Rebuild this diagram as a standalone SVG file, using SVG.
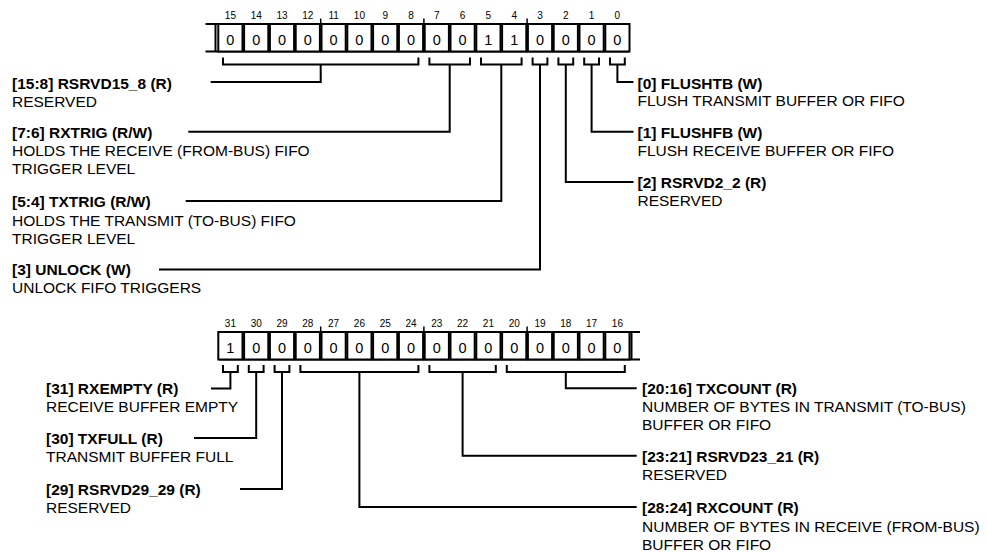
<svg xmlns="http://www.w3.org/2000/svg" width="987" height="552" viewBox="0 0 987 552">
<style>
text{font-family:"Liberation Sans",Arial,sans-serif;fill:#000}
.b{font-weight:bold;font-size:15.5px}
.r{font-size:15.5px}
.bn{font-size:10px;text-anchor:middle}
.cv{font-size:14.5px;text-anchor:middle}
.cell{fill:#fff;stroke:#000;stroke-width:2}
.ln{fill:none;stroke:#000;stroke-width:2}
.tk{fill:none;stroke:#000;stroke-width:1.5}
</style>
<rect width="987" height="552" fill="#fff"/>

<g id="register-15-0" transform="translate(-1,0)">
  <g class="bn">
    <text x="231.4" y="19">15</text><text x="257.2" y="19">14</text><text x="283" y="19">13</text><text x="308.8" y="19">12</text>
    <text x="334.6" y="19">11</text><text x="360.4" y="19">10</text><text x="386.2" y="19">9</text><text x="412" y="19">8</text>
    <text x="437.8" y="19">7</text><text x="463.6" y="19">6</text><text x="489.4" y="19">5</text><text x="515.2" y="19">4</text>
    <text x="541" y="19">3</text><text x="566.8" y="19">2</text><text x="592.6" y="19">1</text><text x="618.4" y="19">0</text>
  </g>
  <path class="tk" d="M321.7,18.5 V24 M424.9,18.5 V24 M528.1,18.5 V24"/>
  <path class="ln" d="M206.5,24 H630 M206.5,51.5 H630 M216.5,24 V51.5"/>
  <rect class="cell" x="219.3" y="24" width="24.2" height="27.5"/>
  <rect class="cell" x="245.1" y="24" width="24.2" height="27.5"/>
  <rect class="cell" x="270.9" y="24" width="24.2" height="27.5"/>
  <rect class="cell" x="296.7" y="24" width="24.2" height="27.5"/>
  <rect class="cell" x="322.5" y="24" width="24.2" height="27.5"/>
  <rect class="cell" x="348.3" y="24" width="24.2" height="27.5"/>
  <rect class="cell" x="374.1" y="24" width="24.2" height="27.5"/>
  <rect class="cell" x="399.9" y="24" width="24.2" height="27.5"/>
  <rect class="cell" x="425.7" y="24" width="24.2" height="27.5"/>
  <rect class="cell" x="451.5" y="24" width="24.2" height="27.5"/>
  <rect class="cell" x="477.3" y="24" width="24.2" height="27.5"/>
  <rect class="cell" x="503.1" y="24" width="24.2" height="27.5"/>
  <rect class="cell" x="528.9" y="24" width="24.2" height="27.5"/>
  <rect class="cell" x="554.7" y="24" width="24.2" height="27.5"/>
  <rect class="cell" x="580.5" y="24" width="24.2" height="27.5"/>
  <rect class="cell" x="606.3" y="24" width="24.2" height="27.5"/>
  <g class="cv">
    <text x="231.4" y="45">0</text><text x="257.2" y="45">0</text><text x="283" y="45">0</text><text x="308.8" y="45">0</text>
    <text x="334.6" y="45">0</text><text x="360.4" y="45">0</text><text x="386.2" y="45">0</text><text x="412" y="45">0</text>
    <text x="437.8" y="45">0</text><text x="463.6" y="45">0</text><text x="489.4" y="45">1</text><text x="515.2" y="45">1</text>
    <text x="541" y="45">0</text><text x="566.8" y="45">0</text><text x="592.6" y="45">0</text><text x="618.4" y="45">0</text>
  </g>
</g>

<g id="register-31-16" transform="translate(-1,0)">
  <g class="bn">
    <text x="231.4" y="327">31</text><text x="257.2" y="327">30</text><text x="283" y="327">29</text><text x="308.8" y="327">28</text>
    <text x="334.6" y="327">27</text><text x="360.4" y="327">26</text><text x="386.2" y="327">25</text><text x="412" y="327">24</text>
    <text x="437.8" y="327">23</text><text x="463.6" y="327">22</text><text x="489.4" y="327">21</text><text x="515.2" y="327">20</text>
    <text x="541" y="327">19</text><text x="566.8" y="327">18</text><text x="592.6" y="327">17</text><text x="618.4" y="327">16</text>
  </g>
  <path class="tk" d="M321.7,326.5 V332 M424.9,326.5 V332 M528.1,326.5 V332"/>
  <path class="ln" d="M220,332 H641 M220,359.5 H641 M632.5,332 V359.5"/>
  <rect class="cell" x="219.3" y="332" width="24.2" height="27.5"/>
  <rect class="cell" x="245.1" y="332" width="24.2" height="27.5"/>
  <rect class="cell" x="270.9" y="332" width="24.2" height="27.5"/>
  <rect class="cell" x="296.7" y="332" width="24.2" height="27.5"/>
  <rect class="cell" x="322.5" y="332" width="24.2" height="27.5"/>
  <rect class="cell" x="348.3" y="332" width="24.2" height="27.5"/>
  <rect class="cell" x="374.1" y="332" width="24.2" height="27.5"/>
  <rect class="cell" x="399.9" y="332" width="24.2" height="27.5"/>
  <rect class="cell" x="425.7" y="332" width="24.2" height="27.5"/>
  <rect class="cell" x="451.5" y="332" width="24.2" height="27.5"/>
  <rect class="cell" x="477.3" y="332" width="24.2" height="27.5"/>
  <rect class="cell" x="503.1" y="332" width="24.2" height="27.5"/>
  <rect class="cell" x="528.9" y="332" width="24.2" height="27.5"/>
  <rect class="cell" x="554.7" y="332" width="24.2" height="27.5"/>
  <rect class="cell" x="580.5" y="332" width="24.2" height="27.5"/>
  <rect class="cell" x="606.3" y="332" width="24.2" height="27.5"/>
  <g class="cv">
    <text x="231.4" y="353">1</text><text x="257.2" y="353">0</text><text x="283" y="353">0</text><text x="308.8" y="353">0</text>
    <text x="334.6" y="353">0</text><text x="360.4" y="353">0</text><text x="386.2" y="353">0</text><text x="412" y="353">0</text>
    <text x="437.8" y="353">0</text><text x="463.6" y="353">0</text><text x="489.4" y="353">0</text><text x="515.2" y="353">0</text>
    <text x="541" y="353">0</text><text x="566.8" y="353">0</text><text x="592.6" y="353">0</text><text x="618.4" y="353">0</text>
  </g>
</g>

<g id="connectors" class="ln" transform="translate(-1,0)">
  <path d="M224,57.5 V64.5 H419.4 V57.5 M321.7,64.5 V82 H211.7"/>
  <path d="M430.4,57.5 V64.5 H471 V57.5 M450.7,64.5 V131.7 H189.3"/>
  <path d="M482,57.5 V64.5 H522.6 V57.5 M502.3,64.5 V201 H186.7"/>
  <path d="M533.6,57.5 V64.5 H548.4 V57.5 M541,64.5 V269.5 H160"/>
  <path d="M559.4,57.5 V64.5 H574.2 V57.5 M566.8,64.5 V182 H634.5"/>
  <path d="M585.2,57.5 V64.5 H600 V57.5 M592.6,64.5 V131.7 H634.5"/>
  <path d="M611,57.5 V64.5 H625.8 V57.5 M618.4,64.5 V82 H634.5"/>
  <path d="M224,365 V372 H238.8 V365 M231.4,372 V388.5 H212"/>
  <path d="M249.8,365 V372 H264.6 V365 M257.2,372 V438 H195"/>
  <path d="M275.6,365 V372 H290.4 V365 M283,372 V489 H241"/>
  <path d="M301.4,365 V372 H419.4 V365 M360.4,372 V507 H637.7"/>
  <path d="M430.4,365 V372 H496.8 V365 M463.6,372 V455.7 H637.7"/>
  <path d="M507.8,365 V372 H625.8 V365 M566.8,372 V388.3 H637.7"/>
</g>

<g id="field-15-8"><text class="b" x="12" y="89">[15:8] RSRVD15_8 (R)</text><text class="r" x="12" y="106.5">RESERVED</text></g>
<g id="field-7-6"><text class="b" x="12" y="138.3">[7:6] RXTRIG (R/W)</text><text class="r" x="12" y="156.3">HOLDS THE RECEIVE (FROM-BUS) FIFO</text><text class="r" x="12" y="174.3">TRIGGER LEVEL</text></g>
<g id="field-5-4"><text class="b" x="12" y="207.3">[5:4] TXTRIG (R/W)</text><text class="r" x="12" y="225.5">HOLDS THE TRANSMIT (TO-BUS) FIFO</text><text class="r" x="12" y="243.8">TRIGGER LEVEL</text></g>
<g id="field-3"><text class="b" x="12" y="275">[3] UNLOCK (W)</text><text class="r" x="12" y="293">UNLOCK FIFO TRIGGERS</text></g>
<g id="field-0"><text class="b" x="637.5" y="88.5">[0] FLUSHTB (W)</text><text class="r" x="637.5" y="106">FLUSH TRANSMIT BUFFER OR FIFO</text></g>
<g id="field-1"><text class="b" x="637.5" y="138.3">[1] FLUSHFB (W)</text><text class="r" x="637.5" y="156">FLUSH RECEIVE BUFFER OR FIFO</text></g>
<g id="field-2"><text class="b" x="637.5" y="188.3">[2] RSRVD2_2 (R)</text><text class="r" x="637.5" y="206">RESERVED</text></g>
<g id="field-31"><text class="b" x="46" y="394">[31] RXEMPTY (R)</text><text class="r" x="46" y="412">RECEIVE BUFFER EMPTY</text></g>
<g id="field-30"><text class="b" x="46" y="444">[30] TXFULL (R)</text><text class="r" x="46" y="462">TRANSMIT BUFFER FULL</text></g>
<g id="field-29"><text class="b" x="46" y="495">[29] RSRVD29_29 (R)</text><text class="r" x="46" y="513">RESERVED</text></g>
<g id="field-20-16"><text class="b" x="642" y="393.5">[20:16] TXCOUNT (R)</text><text class="r" x="642" y="411.5">NUMBER OF BYTES IN TRANSMIT (TO-BUS)</text><text class="r" x="642" y="429.5">BUFFER OR FIFO</text></g>
<g id="field-23-21"><text class="b" x="642" y="461.5">[23:21] RSRVD23_21 (R)</text><text class="r" x="642" y="480">RESERVED</text></g>
<g id="field-28-24"><text class="b" x="642" y="513">[28:24] RXCOUNT (R)</text><text class="r" x="642" y="531.5">NUMBER OF BYTES IN RECEIVE (FROM-BUS)</text><text class="r" x="642" y="549.5">BUFFER OR FIFO</text></g>
</svg>
